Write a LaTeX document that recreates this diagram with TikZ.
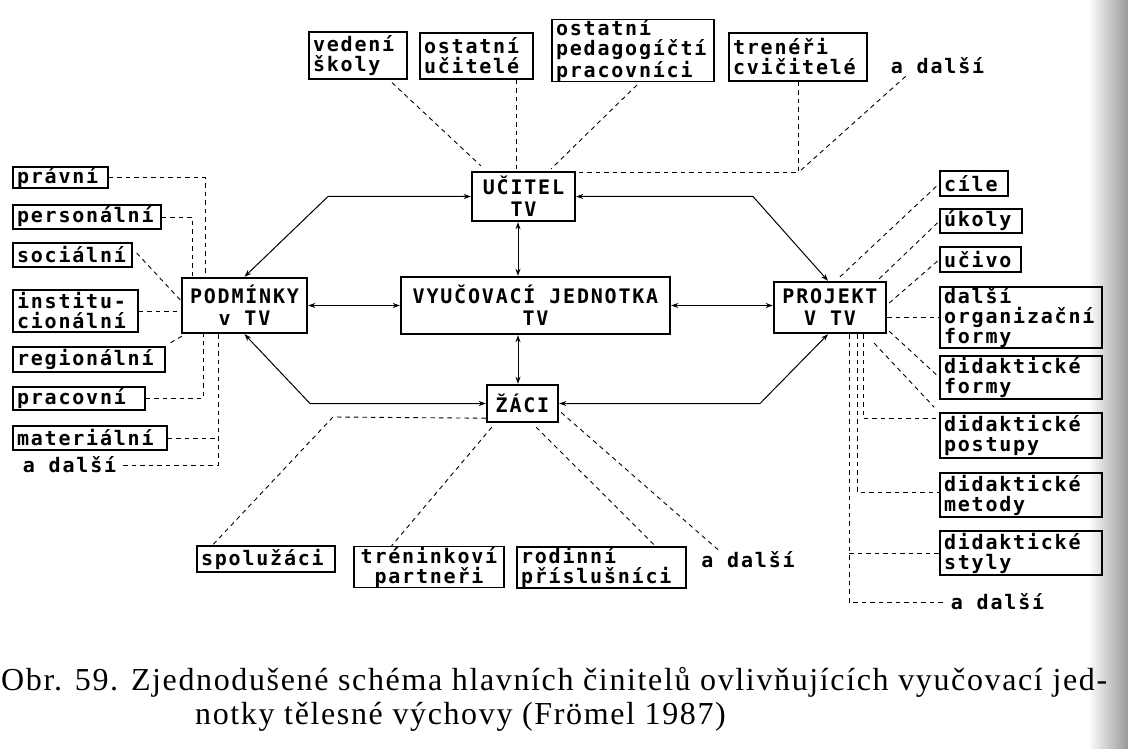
\documentclass[tikz,border=0pt]{standalone}
\usepackage{fontspec}
\usetikzlibrary{arrows.meta,calc}
\newfontfamily\dotf[LetterSpace=9]{DejaVu Sans Mono}
\newfontfamily\capf[LetterSpace=5.1]{Liberation Serif}
\begin{document}
\begin{tikzpicture}[x=1pt,y=-1pt,
 bx/.style={draw, line width=1.3pt, inner xsep=4pt, inner ysep=0pt, align=left, font=\dotf\bfseries\fontsize{20}{20}\selectfont},
 mb/.style={draw, line width=2.4pt, inner sep=0pt, align=center, font=\dotf\bfseries\fontsize{20}{22}\selectfont},
 tx/.style={inner sep=0pt, font=\dotf\bfseries\fontsize{20}{20}\selectfont},
 dsh/.style={dash pattern=on 4.5pt off 4pt, line width=0.9pt},
 arr/.style={<->, >={Stealth[length=7pt,width=5pt]}, line width=1pt},
 captext/.style={anchor=west, inner sep=0pt, font=\capf\fontsize{32}{36}\selectfont}]
\useasboundingbox (0,0) rectangle (1128,749);
\shade[left color=white,right color=black!40] (1088,0) rectangle (1128,749);

% top boxes
\node[bx, text width=90pt, minimum height=47pt] (ved) at (358,55.5) {vedení\\školy};
\node[bx, text width=105pt, minimum height=46pt] (ouc) at (476.5,56) {ostatní\\učitelé};
\node[bx, text width=154pt, minimum height=59pt] (opp) at (633,50.5) {ostatní\\pedagogíčtí\\pracovníci};
\node[bx, text width=130pt, minimum height=48pt] (trc) at (798,57) {trenéři\\cvičitelé};
\node[tx] (adt) at (937.5,66) {a další};

% main boxes
\node[mb, minimum width=103pt, minimum height=49pt] (uci) at (523.5,196.5) {UČITEL\\TV};
\node[mb, minimum width=125pt, minimum height=55pt] (pod) at (244.5,305.5) {PODMÍNKY\\v TV};
\node[mb, minimum width=269pt, minimum height=57pt] (vyu) at (535.5,305.5) {VYUČOVACÍ JEDNOTKA\\TV};
\node[mb, minimum width=112pt, minimum height=51pt] (pro) at (830,307.5) {PROJEKT\\V TV};
\node[mb, minimum width=71pt, minimum height=37pt] (zac) at (522.5,403.5) {ŽÁCI};

% left boxes
\node[bx, text width=87pt, minimum height=21pt] (pra) at (60.5,177.5) {právní};
\node[bx, text width=140pt, minimum height=24pt] (per) at (87,217) {personální};
\node[bx, text width=111pt, minimum height=24pt] (soc) at (72.5,255) {sociální};
\node[bx, text width=117pt, minimum height=42pt] (ins) at (75.5,311) {institu-\\cionální};
\node[bx, text width=144pt, minimum height=25pt] (reg) at (89,359.5) {regionální};
\node[bx, text width=124pt, minimum height=23pt] (prc) at (79,398.5) {pracovní};
\node[bx, text width=146pt, minimum height=24pt] (mat) at (90,438) {materiální};
\node[tx] (adl) at (69.5,465) {a další};

% right boxes
\node[bx, text width=60pt, minimum height=25pt] (cil) at (974,183.5) {cíle};
\node[bx, text width=74pt, minimum height=24pt] (uko) at (981,221) {úkoly};
\node[bx, text width=73pt, minimum height=25pt] (uv) at (980.5,259.5) {učivo};
\node[bx, text width=154pt, minimum height=61pt] (dof) at (1021,317.5) {další\\organizační\\formy};
\node[bx, text width=154pt, minimum height=43pt] (dfo) at (1021,377.5) {didaktické\\formy};
\node[bx, text width=154pt, minimum height=45pt] (dpo) at (1021,435.5) {didaktické\\postupy};
\node[bx, text width=154pt, minimum height=44pt] (dme) at (1021,495) {didaktické\\metody};
\node[bx, text width=154pt, minimum height=44pt] (dst) at (1021,553) {didaktické\\styly};
\node[tx] (ard) at (997.5,602) {a další};

% bottom boxes
\node[bx, text width=130pt, minimum height=26pt] (spo) at (266,559) {spolužáci};
\node[bx, text width=142pt, minimum height=40pt, align=center] (tre) at (429,567) {tréninkoví\\partneři};
\node[bx, text width=161pt, minimum height=41pt] (rod) at (601.5,567.5) {rodinní\\příslušníci};
\node[tx] (abd) at (748,560) {a další};

% solid arrows
\draw[arr] ([xshift=-5.5pt]uci.south) -- ([xshift=-5.5pt]uci.south |- vyu.north);
\draw[arr] ([xshift=-4.5pt]zac.north |- vyu.south) -- ([xshift=-4.5pt]zac.north);
\draw[arr] (pod.east) -- (vyu.west);
\draw[arr] (vyu.east) -- (vyu.east -| pro.west);
\coordinate (k1) at (328,196.5);
\coordinate (k2) at (753,196.5);
\coordinate (k3) at (310,403.5);
\coordinate (k4) at (760,403.5);
\draw[arr] (pod.north) -- (k1) -- (uci.west);
\draw[arr] (uci.east) -- (k2) -- ([xshift=-2pt]pro.north);
\draw[arr] (pod.south) -- (k3) -- (zac.west);
\draw[arr] (zac.east) -- (k4) -- ([xshift=-2pt]pro.south);

% top dashed
\draw[dsh] ([xshift=34pt,yshift=-3pt]ved.south) -- ([xshift=10pt,yshift=5pt]uci.north west);
\coordinate (ux) at ([xshift=-7.5pt]uci.north);
\draw[dsh] (ouc.south -| ux) -- (ux);
\draw[dsh] ([xshift=4pt,yshift=-3pt]opp.south) -- ([xshift=-25pt,yshift=2pt]uci.north east);
\path ([yshift=-2pt]uci.north east) coordinate (ut);
\coordinate (tc) at (trc.south |- ut);
\draw[dsh] (trc.south) -- (tc) -- (ut);
\draw[dsh] ([xshift=15pt,yshift=-2pt]adt.south west) -- (tc);

% left dashed
\coordinate (p1) at ([xshift=-39.5pt]pod.north);
\coordinate (p2) at ([xshift=-52.5pt]pod.north);
\coordinate (p3) at ([xshift=-41.5pt]pod.south);
\coordinate (p4) at ([xshift=-26.5pt]pod.south);
\draw[dsh] (pra.east) -| (p1);
\draw[dsh] (per.east) -| (p2);
\draw[dsh] ([xshift=4pt,yshift=2pt]soc.east) -- ([yshift=5pt]pod.west);
\draw[dsh] (ins.east) -- (ins.east -| pod.west);
\draw[dsh] ([xshift=1pt,yshift=-2pt]pod.south west) -- ([shift={(2pt,2pt)}]reg.north east);
\draw[dsh] (prc.east) -| (p3);
\draw[dsh] (p4) |- ([xshift=4pt]adl.east);
\draw[dsh] (mat.east) -- (mat.east -| p4);

% right dashed
\draw[dsh] ([xshift=10pt,yshift=4pt]pro.north) -- (cil.west);
\draw[dsh] ([xshift=-8pt,yshift=2pt]pro.north east) -- (uko.west);
\draw[dsh] ([xshift=2pt,yshift=4.5pt]pro.east) -- (uv.west);
\draw[dsh] (dof.west -| pro.east) -- (dof.west);
\draw[dsh] ([shift={(2pt,3pt)}]pro.south east) -- (dfo.west);
\draw[dsh] ([shift={(-13pt,-9pt)}]pro.south east) -- ([shift={(-5pt,5pt)}]dpo.north west);
\coordinate (q1) at ([xshift=33pt]pro.south);
\coordinate (q2) at ([xshift=27pt]pro.south);
\coordinate (q3) at ([xshift=19pt]pro.south);
\draw[dsh] (q1) |- ([yshift=17pt]dpo.west);
\draw[dsh] (q2) |- ([yshift=3pt]dme.west);
\draw[dsh] (q3) |- ([xshift=-6pt]ard.west);
\draw[dsh] (dst.west -| q3) -- (dst.west);

% bottom dashed
\coordinate (sb) at (333,417);
\draw[dsh] ([yshift=5pt]zac.south west) -- (sb) -- ([xshift=16pt]spo.north west);
\draw[dsh] ([shift={(6pt,-4pt)}]zac.south west) -- ([xshift=38pt]tre.north west);
\draw[dsh] ([shift={(-23pt,-4pt)}]zac.south east) -- ([xshift=-31pt]rod.north east);
\draw[dsh] ([shift={(2pt,-9pt)}]zac.east) -- ([xshift=-30pt,yshift=2pt]abd.north);

% caption
\node[captext] (c1) at (1,682) {Obr. 59. Zjednodušené schéma hlavních činitelů ovlivňujících vyučovací jed-};
\node[captext] (c2) at (195,717) {notky tělesné výchovy (Frömel 1987)};
\end{tikzpicture}
\end{document}
